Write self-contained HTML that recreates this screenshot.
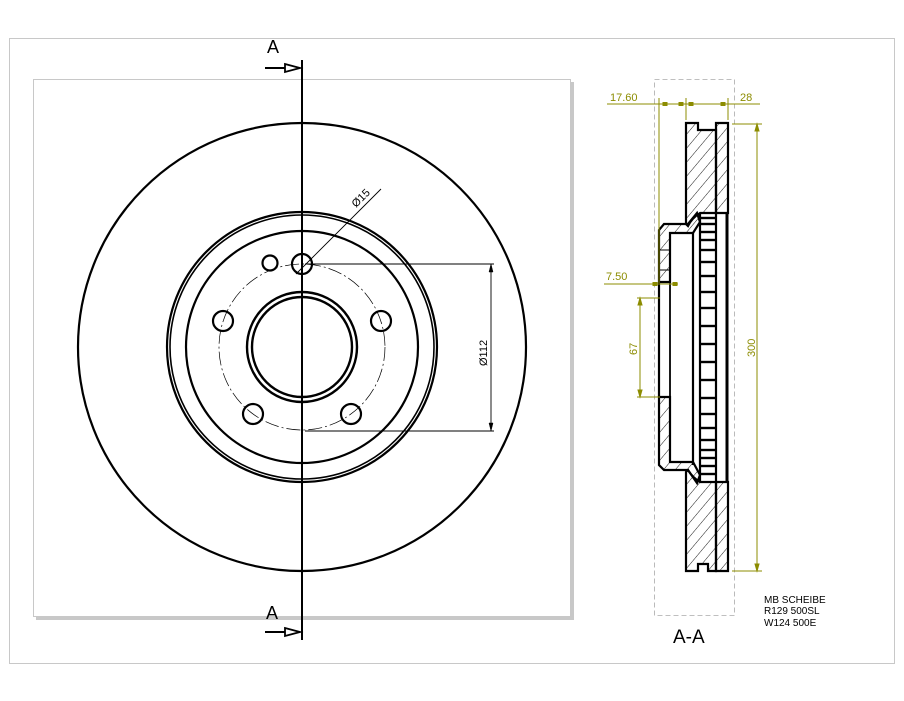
<!DOCTYPE html>
<html><head><meta charset="utf-8"><style>
html,body{margin:0;padding:0;background:#fff;}
svg{display:block;font-family:"Liberation Sans",sans-serif;}
</style></head><body>
<svg width="904" height="701" viewBox="0 0 904 701" xmlns="http://www.w3.org/2000/svg">
<defs>
<pattern id="h" width="9" height="9" patternUnits="userSpaceOnUse" patternTransform="rotate(40)">
<line x1="0" y1="0" x2="0" y2="9" stroke="#000" stroke-width="0.9"/>
</pattern>
</defs>
<rect x="9.5" y="38.5" width="885" height="625" fill="none" stroke="#c8c8c8" stroke-width="1"/>
<rect x="36" y="82" width="538" height="538" fill="#c8c8c8"/>
<rect x="33.5" y="79.5" width="537" height="537" fill="#fff" stroke="#c8c8c8" stroke-width="1"/>

<g fill="none" stroke="#000">
<circle cx="302" cy="347" r="224" stroke-width="2.2"/>
<circle cx="302" cy="347" r="135" stroke-width="2.2"/>
<circle cx="302" cy="347" r="132" stroke-width="1.6"/>
<circle cx="302" cy="347" r="116" stroke-width="2.2"/>
<circle cx="302" cy="347" r="83" stroke-width="0.7" stroke-dasharray="14,3,2,3"/>
<circle cx="302" cy="347" r="55" stroke-width="2.4"/>
<circle cx="302" cy="347" r="50" stroke-width="2.4"/>
<circle cx="302" cy="264" r="10" stroke-width="2.2"/>
<circle cx="381" cy="321" r="10" stroke-width="2.2"/>
<circle cx="351" cy="414" r="10" stroke-width="2.2"/>
<circle cx="253" cy="414" r="10" stroke-width="2.2"/>
<circle cx="223" cy="321" r="10" stroke-width="2.2"/>
<circle cx="270" cy="263" r="7.5" stroke-width="2.2"/>
<line x1="302" y1="60" x2="302" y2="640" stroke-width="2"/>
<line x1="265" y1="68" x2="285" y2="68" stroke-width="2"/>
<polygon points="285,64 300,68 285,72" stroke-width="1.8"/>
<line x1="265" y1="632" x2="285" y2="632" stroke-width="2"/>
<polygon points="285,628 300,632 285,636" stroke-width="1.8"/>
<line x1="296" y1="274" x2="381" y2="189" stroke-width="0.9"/>
<line x1="305" y1="264" x2="494" y2="264" stroke-width="0.9"/>
<line x1="305" y1="431" x2="494" y2="431" stroke-width="0.9"/>
<line x1="491" y1="264" x2="491" y2="431" stroke-width="0.9"/>
<polygon points="491,264 489,272 493,272" fill="#000" stroke-width="0.5"/>
<polygon points="491,431 489,423 493,423" fill="#000" stroke-width="0.5"/>
</g>
<text x="267" y="53" font-size="18" fill="#000">A</text>
<text x="266" y="619" font-size="18" fill="#000">A</text>
<text transform="translate(356,208) rotate(-45)" font-size="11" fill="#000">Ø15</text>
<text transform="translate(487,366) rotate(-90)" font-size="11" fill="#000">Ø112</text>

<rect x="654.5" y="79.5" width="80" height="536" fill="none" stroke="#aaa" stroke-width="0.8" stroke-dasharray="5,3"/>
<g stroke="#000" stroke-width="2.2" fill="url(#h)">
<path d="M686,123 H698 V130 H716 V213 H700 Q692,218 688,226 L686,224 Z"/>
<path d="M716,123 H728 V213 H716 Z"/>
<path d="M686,571 H698 V564 H708 V571 H716 V482 H700 Q692,477 688,470 L686,472 Z"/>
<path d="M716,571 H728 V482 H716 Z"/>
<path d="M664,224 H688 L697,213 L700,222 L693,233 H670 V282 H659 V230 Z"/>
<path d="M659,397 H670 V462 H693 L700,475 L697,483 L688,470 H664 L659,465 Z"/>
</g>
<g stroke="#000" fill="none">
<line x1="659" y1="282" x2="659" y2="397" stroke-width="2.2"/>
<line x1="670" y1="233" x2="670" y2="462" stroke-width="1.8"/>
<line x1="693" y1="233" x2="693" y2="465" stroke-width="2.2"/>
<line x1="700" y1="213" x2="700" y2="482" stroke-width="2.2"/>
<line x1="716" y1="213" x2="716" y2="482" stroke-width="2.2"/>
<line x1="727" y1="213" x2="727" y2="482" stroke-width="3"/>
<line x1="659" y1="250" x2="670" y2="250" stroke-width="1"/>
<line x1="659" y1="270" x2="670" y2="270" stroke-width="1"/>
</g>
<g stroke="#000" stroke-width="2.4">
<line x1="701" y1="218" x2="715" y2="218"/><line x1="701" y1="224" x2="715" y2="224"/>
<line x1="701" y1="232" x2="715" y2="232"/><line x1="701" y1="240" x2="715" y2="240"/>
<line x1="701" y1="250" x2="715" y2="250"/><line x1="701" y1="262" x2="715" y2="262"/>
<line x1="701" y1="276" x2="715" y2="276"/><line x1="701" y1="292" x2="715" y2="292"/>
<line x1="701" y1="308" x2="715" y2="308"/><line x1="701" y1="326" x2="715" y2="326"/>
<line x1="701" y1="344" x2="715" y2="344"/><line x1="701" y1="362" x2="715" y2="362"/>
<line x1="701" y1="380" x2="715" y2="380"/><line x1="701" y1="398" x2="715" y2="398"/>
<line x1="701" y1="414" x2="715" y2="414"/><line x1="701" y1="428" x2="715" y2="428"/>
<line x1="701" y1="440" x2="715" y2="440"/><line x1="701" y1="450" x2="715" y2="450"/>
<line x1="701" y1="458" x2="715" y2="458"/><line x1="701" y1="466" x2="715" y2="466"/>
<line x1="701" y1="474" x2="715" y2="474"/>
</g>
<g stroke="#8c8c00" stroke-width="1" fill="#8c8c00">
<line x1="607" y1="104" x2="760" y2="104"/>
<line x1="659" y1="98" x2="659" y2="283"/>
<line x1="686" y1="98" x2="686" y2="120"/>
<line x1="728" y1="98" x2="728" y2="120"/>
<rect x="663" y="102.5" width="4" height="3"/><rect x="679" y="102.5" width="4" height="3"/>
<rect x="689" y="102.5" width="4" height="3"/><rect x="721" y="102.5" width="4" height="3"/>
<line x1="604" y1="284" x2="678" y2="284"/>
<rect x="653" y="282.5" width="4" height="3"/><rect x="673" y="282.5" width="4" height="3"/>
<line x1="637" y1="298" x2="660" y2="298"/>
<line x1="637" y1="397" x2="660" y2="397"/>
<line x1="640" y1="298" x2="640" y2="397"/>
<polygon points="640,298 638,305 642,305"/><polygon points="640,397 638,390 642,390"/>
<line x1="732" y1="124" x2="762" y2="124"/>
<line x1="732" y1="571" x2="762" y2="571"/>
<line x1="757" y1="124" x2="757" y2="571"/>
<polygon points="757,124 755,131 759,131"/><polygon points="757,571 755,564 759,564"/>
</g>
<g fill="#8c8c00" font-size="11">
<text x="610" y="101">17.60</text>
<text x="740" y="101">28</text>
<text x="606" y="280">7.50</text>
<text transform="translate(637,355) rotate(-90)">67</text>
<text transform="translate(755,357) rotate(-90)">300</text>
</g>
<g fill="#000" font-size="10">
<text x="764" y="603">MB SCHEIBE</text>
<text x="764" y="614">R129 500SL</text>
<text x="764" y="626">W124 500E</text>
</g>
<text x="673" y="643" font-size="19" fill="#000">A-A</text>
</svg>
</body></html>
